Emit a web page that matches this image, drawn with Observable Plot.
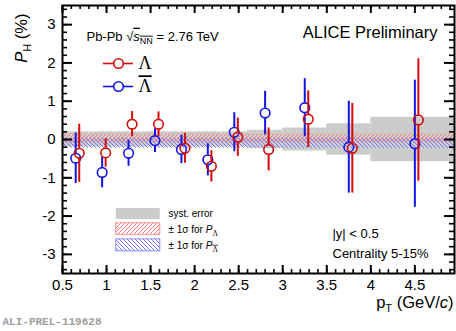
<!DOCTYPE html>
<html><head><meta charset="utf-8">
<script src="https://cdn.jsdelivr.net/npm/d3@7"></script>
<script src="https://cdn.jsdelivr.net/npm/@observablehq/plot@0.6"></script>
<style>body{margin:0;background:#fff} svg{display:block}</style>
</head><body><div id="chart"></div>
<script>
// ---- data ----
const pTLambda      = [0.69, 0.99, 1.29, 1.59, 1.89, 2.19, 2.49, 2.84, 3.29, 3.79, 4.54];
const PLambda       = [-0.36, -0.35, 0.40, 0.40, -0.23, -0.70, 0.06, -0.26, 0.53, -0.23, 0.51];
const errLambda     = [0.76, 0.37, 0.33, 0.32, 0.39, 0.41, 0.50, 0.56, 0.74, 1.17, 1.60];
const pTAntiLambda  = [0.65, 0.95, 1.25, 1.55, 1.85, 2.15, 2.45, 2.80, 3.25, 3.75, 4.50];
const PAntiLambda   = [-0.49, -0.86, -0.36, -0.03, -0.26, -0.53, 0.19, 0.69, 0.83, -0.20, -0.11];
const errAntiLambda = [0.66, 0.40, 0.34, 0.31, 0.37, 0.42, 0.51, 0.57, 0.76, 1.20, 1.66];
const binLo   = [0.5, 0.8, 1.1, 1.4, 1.7, 2.0, 2.3, 2.6, 3.0, 3.5, 4.0];
const binHi   = [0.8, 1.1, 1.4, 1.7, 2.0, 2.3, 2.6, 3.0, 3.5, 4.0, 5.0];
const systErr = [0.20, 0.20, 0.20, 0.20, 0.20, 0.20, 0.20, 0.24, 0.30, 0.41, 0.58];
const meanLambda = 0.03, sigmaLambda = 0.12;
const meanAntiLambda = -0.10, sigmaAntiLambda = 0.13;
const xDomain = [0.5, 4.95];
const yDomain = [-3.5, 3.5];
const xMajorTicks = [0.5, 1, 1.5, 2, 2.5, 3, 3.5, 4, 4.5];
const yMajorTicks = [-3, -2, -1, 0, 1, 2, 3];
const xMinorTicks = d3.range(5, 50).map(i => i / 10);
const yMinorTicks = d3.range(-17, 18).map(i => i / 5);
const legendTop = [
  {label: "Λ", color: "red", y: 1.985},
  {label: "\u039B\u0304", color: "blue", y: 1.384}
];
const legendBottom = [
  {label: "syst. error", fill: "#cccccc", stroke: "none", y1: -1.80, y2: -2.09, ty: -1.94},
  {label: "± 1σ for PΛ", fill: "url(#hatchRed)", stroke: "#ff8c8c", y1: -2.19, y2: -2.49, ty: -2.35},
  {label: "± 1σ for P\u039B\u0304", fill: "url(#hatchBlue)", stroke: "#8c8cff", y1: -2.61, y2: -2.92, ty: -2.77}
];

// ---- styling ----
const RED = "#d40b0b", BLUE = "#1414e6";
const colorOf = {red: RED, blue: BLUE};
const W = 456, H = 331, mL = 62, mR = 2, mT = 5, mB = 58;
const innerW = W - mL - mR, innerH = H - mT - mB;
const FONT = "'Liberation Sans', Arial, Helvetica, sans-serif";
const R = 4.8;

const lam = pTLambda.map((x, i) => ({x, v: PLambda[i], e: errLambda[i]}));
const alam = pTAntiLambda.map((x, i) => ({x, v: PAntiLambda[i], e: errAntiLambda[i]}));
const syst = binLo.map((lo, i) => ({lo, hi: binHi[i], s: systErr[i]}));

function seriesMarks(data, color) {
  return [
    Plot.ruleX(data, {x: "x", y1: d => d.v + d.e, y2: "v", insetBottom: R, stroke: color, strokeWidth: 2}),
    Plot.ruleX(data, {x: "x", y1: "v", y2: d => d.v - d.e, insetTop: R, stroke: color, strokeWidth: 2}),
    Plot.dot(data, {x: "x", y: "v", r: R, stroke: color, strokeWidth: 1.6, fill: "none"})
  ];
}

const svg = Plot.plot({
  width: W, height: H,
  marginLeft: mL, marginRight: mR, marginTop: mT, marginBottom: mB,
  x: {domain: xDomain},
  y: {domain: yDomain},
  style: {fontFamily: FONT, fontSize: "15px", color: "black", background: "white"},
  marks: [
    Plot.rect(syst, {x1: "lo", x2: "hi", y1: d => -d.s, y2: d => d.s, fill: "#cccccc", clip: true}),
    Plot.rect([{}], {x1: xDomain[0], x2: xDomain[1], y1: meanLambda - sigmaLambda, y2: meanLambda + sigmaLambda, fill: "url(#hatchRed)"}),
    Plot.rect([{}], {x1: xDomain[0], x2: xDomain[1], y1: meanAntiLambda - sigmaAntiLambda, y2: meanAntiLambda + sigmaAntiLambda, fill: "url(#hatchBlue)"}),
    ...seriesMarks(alam, BLUE),
    ...seriesMarks(lam, RED),
    // ticks (ROOT style, inward, mirrored)
    Plot.tickX(xMajorTicks, {x: d => d, insetTop: innerH - 8, strokeWidth: 2}),
    Plot.tickX(xMajorTicks, {x: d => d, insetBottom: innerH - 8, strokeWidth: 2}),
    Plot.tickX(xMinorTicks, {x: d => d, insetTop: innerH - 4, strokeWidth: 1.6}),
    Plot.tickX(xMinorTicks, {x: d => d, insetBottom: innerH - 4, strokeWidth: 1.6}),
    Plot.tickY(yMajorTicks, {y: d => d, insetRight: innerW - 10, strokeWidth: 2}),
    Plot.tickY(yMajorTicks, {y: d => d, insetLeft: innerW - 10, strokeWidth: 2}),
    Plot.tickY(yMinorTicks, {y: d => d, insetRight: innerW - 5, strokeWidth: 1.6}),
    Plot.tickY(yMinorTicks, {y: d => d, insetLeft: innerW - 5, strokeWidth: 1.6}),
    Plot.frame({stroke: "black", strokeWidth: 2}),
    Plot.axisX({ticks: xMajorTicks, tickSize: 0, tickPadding: 6, tickFormat: d => String(d), fontSize: 15, label: null}),
    Plot.axisY({ticks: yMajorTicks, tickSize: 0, tickPadding: 7, tickFormat: d => String(d), fontSize: 15, label: null}),
    // axis titles
    Plot.text(["pT (GeV/c)"], {frameAnchor: "bottom-right", textAnchor: "end", dx: -1, dy: 34, fontSize: 16.5}),
    Plot.text(["PH (%)"], {frameAnchor: "top-left", textAnchor: "end", rotate: -90, dx: -47, dy: 8, fontSize: 16.5}),
    Plot.text(["ALI-PREL-119628"], {frameAnchor: "bottom-left", textAnchor: "start", dx: -60, dy: 51, fontSize: 11, fontFamily: "'Liberation Mono', 'DejaVu Sans Mono', monospace", fill: "#a0a0a0", fontWeight: "bold"}),
    // annotations
    Plot.text(["ALICE Preliminary"], {x: 4.757, y: 2.79, textAnchor: "end", fontSize: 16.5}),
    Plot.text(["Pb-Pb √sNN = 2.76 TeV"], {x: 0.772, y: 2.69, textAnchor: "start", fontSize: 13}),
    Plot.text(["|y| < 0.5"], {x: 3.565, y: -2.455, textAnchor: "start", fontSize: 13}),
    Plot.text(["Centrality 5-15%"], {x: 3.565, y: -2.98, textAnchor: "start", fontSize: 13}),
    // top legend
    Plot.ruleY(legendTop, {y: "y", x1: 0.965, x2: 1.306, stroke: d => colorOf[d.color], strokeWidth: 1.6}),
    Plot.dot(legendTop, {x: 1.136, y: "y", r: R, stroke: d => colorOf[d.color], strokeWidth: 1.6, fill: "white"}),
    Plot.text(legendTop, {x: 1.363, y: "y", text: "label", textAnchor: "start", fontSize: 18, fontFamily: "'Liberation Serif', 'Times New Roman', serif"}),
    // bottom legend
    Plot.rect(legendBottom, {x1: 1.11, x2: 1.61, y1: "y1", y2: "y2", fill: "fill", stroke: "stroke", strokeWidth: 1}),
    Plot.text(legendBottom, {x: 1.703, y: "ty", text: "label", textAnchor: "start", fontSize: 10})
  ]
});

// hatch patterns
const defs = d3.select(svg).insert("defs", ":first-child");
const pr = defs.append("pattern").attr("id", "hatchRed").attr("patternUnits", "userSpaceOnUse").attr("width", 4).attr("height", 4);
pr.append("path").attr("d", "M-1,1 l2,-2 M0,4 l4,-4 M3,5 l2,-2").attr("stroke", "#ff7a7a").attr("stroke-width", 1);
const pb = defs.append("pattern").attr("id", "hatchBlue").attr("patternUnits", "userSpaceOnUse").attr("width", 4).attr("height", 4);
pb.append("path").attr("d", "M-1,3 l2,2 M0,0 l4,4 M3,-1 l2,2").attr("stroke", "#7a7aff").attr("stroke-width", 1);

// rich text (sub/superscripts, italics, overlines)
const SERIF = "'Liberation Serif', 'Times New Roman', serif";
const richText = {
  "pT (GeV/c)": {sub: 4, subSize: "11px", parts: [{t: "p"}, {t: "T", sub: true}, {t: " (GeV/"}, {t: "c", italic: true}, {t: ")"}]},
  "PH (%)": {sub: 4, subSize: "11px", parts: [{t: "P", italic: true}, {t: "H", sub: true}, {t: " (%)"}]},
  "Pb-Pb √sNN = 2.76 TeV": {sub: 3, subSize: "9px", parts: [{t: "Pb-Pb "}, {t: "√"}, {t: "s", italic: true, over: true}, {t: "NN", sub: true, over: true}, {t: " = 2.76 TeV"}]},
  "\u039B\u0304": {sub: 0, subSize: "18px", parts: [{t: "Λ", over: true}]},
  "± 1σ for PΛ": {sub: 3, subSize: "7.5px", parts: [{t: "± 1σ for "}, {t: "P", italic: true}, {t: "Λ", sub: true, serif: true}]},
  "± 1σ for P\u039B\u0304": {sub: 3, subSize: "7.5px", parts: [{t: "± 1σ for "}, {t: "P", italic: true}, {t: "Λ", sub: true, serif: true, over: true}]}
};
d3.select(svg).selectAll("text").each(function() {
  const spec = richText[this.textContent];
  if (!spec) return;
  const el = d3.select(this);
  el.text(null);
  let shift = 0;
  for (const part of spec.parts) {
    const ts = el.append("tspan").text(part.t);
    const target = part.sub ? spec.sub : 0;
    if (target !== shift) { ts.attr("dy", target - shift); shift = target; }
    if (part.sub) ts.attr("font-size", spec.subSize);
    if (part.italic) ts.attr("font-style", "italic");
    if (part.over) ts.attr("text-decoration", "overline");
    if (part.serif) ts.attr("font-family", SERIF);
  }
});

document.getElementById("chart").appendChild(svg);
</script>
</body></html>
